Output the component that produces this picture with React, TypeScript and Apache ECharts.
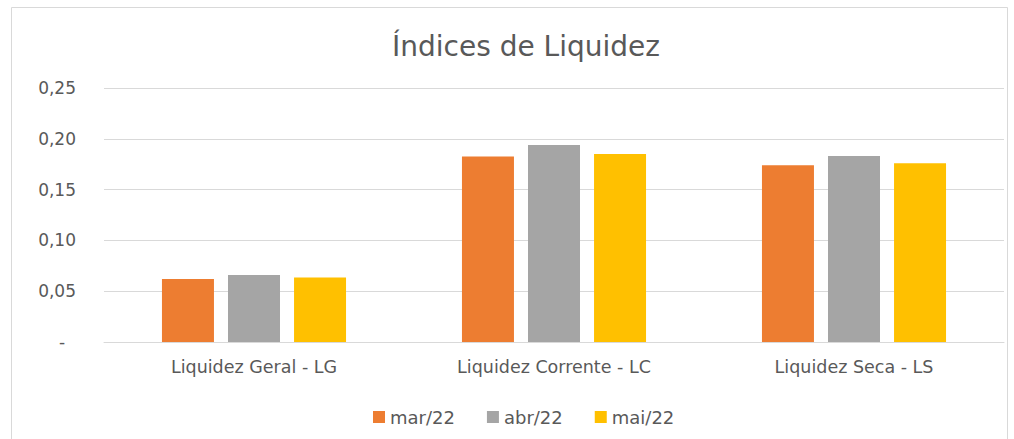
import React, { useEffect, useRef } from "react";
import * as echarts from "echarts";

const categories = ["Liquidez Geral - LG", "Liquidez Corrente - LC", "Liquidez Seca - LS"];
const seriesNames = ["mar/22", "abr/22", "mai/22"];
const mar22 = [0.062, 0.1825, 0.174];
const abr22 = [0.066, 0.194, 0.183];
const mai22 = [0.0635, 0.185, 0.176];
const colors = ["#ED7D31", "#A5A5A5", "#FFC000"];

export default function App() {
  const ref = useRef<HTMLDivElement>(null);
  useEffect(() => {
    document.body.style.margin = "0";
    const chart = echarts.init(ref.current!, undefined, { renderer: "svg" });
    const values = [mar22, abr22, mai22];
    const font = "'DejaVu Sans', 'Open Sans', sans-serif";
    chart.setOption({
      animation: false,
      backgroundColor: "#ffffff",
      textStyle: { fontFamily: font },
      title: {
        text: "Índices de Liquidez",
        left: 387,
        top: 27,
        textStyle: { fontSize: 28, fontWeight: "normal", color: "#595959", fontFamily: font },
      },
      graphic: [
        {
          type: "rect",
          shape: { x: 11.5, y: 7.5, width: 996, height: 440 },
          style: { fill: "none", stroke: "#d9d9d9", lineWidth: 1 },
          silent: true,
        },
      ],
      legend: {
        data: seriesNames,
        top: 403,
        left: 368,
        itemWidth: 12,
        itemHeight: 12,
        itemGap: 32,
        icon: "rect",
        textStyle: { fontSize: 18, color: "#595959", fontFamily: font },
      },
      grid: { left: 104, right: 10, top: 88, bottom: 97, containLabel: false },
      xAxis: {
        type: "category",
        data: categories,
        axisLine: { show: true, lineStyle: { color: "#d9d9d9" } },
        axisTick: { show: false },
        axisLabel: { color: "#595959", fontSize: 17.5, margin: 16, fontFamily: font },
      },
      yAxis: {
        type: "value",
        min: 0,
        max: 0.25,
        interval: 0.05,
        axisLine: { show: false },
        axisTick: { show: false },
        splitLine: { lineStyle: { color: "#d9d9d9" } },
        axisLabel: {
          color: "#595959",
          fontSize: 17,
          margin: 28,
          fontFamily: font,
          formatter: (v: number) => (v === 0 ? "-  " : v.toFixed(2).replace(".", ",")),
        },
      },
      series: seriesNames.map((name, i) => ({
        name,
        type: "bar",
        data: values[i],
        barWidth: 52,
        barGap: "27%",
        itemStyle: { color: colors[i] },
      })),
    });
    return () => chart.dispose();
  }, []);
  return <div ref={ref} style={{ width: 1014, height: 439 }} />;
}
